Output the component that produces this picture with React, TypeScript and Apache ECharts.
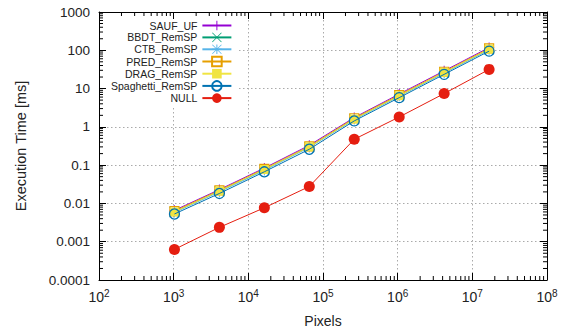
import React, { useEffect, useRef } from "react";
import * as echarts from "echarts";

const pixels = [1024, 4096, 16384, 65536, 262144, 1048576, 4194304, 16777216];
const seriesNames = ["SAUF_UF", "BBDT_RemSP", "CTB_RemSP", "PRED_RemSP", "DRAG_RemSP", "Spaghetti_RemSP", "NULL"];
const saufUF = [0.0066, 0.023, 0.084, 0.33, 1.75, 7.2, 29, 118];
const bbdtRemSP = [0.0060, 0.021, 0.076, 0.30, 1.6, 6.5, 26, 106];
const ctbRemSP = [0.0058, 0.020, 0.073, 0.29, 1.55, 6.3, 25.5, 103];
const predRemSP = [0.0063, 0.022, 0.080, 0.31, 1.68, 6.8, 27.5, 112];
const dragRemSP = [0.0060, 0.021, 0.077, 0.30, 1.6, 6.5, 26.5, 107];
const spaghettiRemSP = [0.0053, 0.0182, 0.067, 0.26, 1.43, 5.8, 23.5, 95];
const nullLabeling = [0.00063, 0.00237, 0.0077, 0.0277, 0.474, 1.81, 7.4, 31.7];
const yTickLabels = ["0.0001", "0.001", "0.01", "0.1", "1", "10", "100", "1000"];
const xExponents = [2, 3, 4, 5, 6, 7, 8];

const colors = ["#9400d3", "#009e73", "#56b4e9", "#e69f00", "#f0e442", "#0072b2", "#e51e10"];

const PLUS = "path://M9,0H11V9H20V11H11V20H9V11H0V9H9Z";
const CROSS = "path://M0,1L1,0L20,19L19,20Z M19,0L20,1L1,20L0,19Z";
const STAR = "path://M9,0H11V9H20V11H11V20H9V11H0V9H9Z M0,1L1,0L20,19L19,20Z M19,0L20,1L1,20L0,19Z";

const X_MIN = 100, X_MAX = 1e8, Y_MIN = 0.0001, Y_MAX = 1000;

function minorTicks(e0: number, e1: number) {
  const out: number[] = [];
  for (let e = e0; e < e1; e++) {
    for (let m = 2; m <= 9; m++) out.push(m * Math.pow(10, e));
  }
  return out;
}

export default function App() {
  const ref = useRef<HTMLDivElement>(null);
  useEffect(() => {
    if (!ref.current) return;
    const chart = echarts.init(ref.current, undefined, { renderer: "svg" });
    const font = "Liberation Sans";
    const values = [saufUF, bbdtRemSP, ctbRemSP, predRemSP, dragRemSP, spaghettiRemSP, nullLabeling];
    const symbols: any[] = [PLUS, CROSS, STAR, "rect", "rect", "circle", "circle"];
    const sizes = [10, 10, 10, 9, 9, 10, 11];
    const fills = ["#9400d3", "#009e73", "#56b4e9", "rgba(0,0,0,0)", "#f0e442", "rgba(0,0,0,0)", "#e51e10"];
    const borders = [0, 0, 0, 1.2, 0, 1.3, 0];

    const dataSeries = seriesNames.map((name, i) => ({
      name,
      type: "line",
      data: pixels.map((p, k) => [p, values[i][k]]),
      symbol: symbols[i],
      symbolSize: sizes[i],
      showSymbol: true,
      lineStyle: { color: colors[i], width: 1 },
      itemStyle: { color: fills[i], borderColor: colors[i], borderWidth: borders[i] },
      emphasis: { disabled: true },
      z: 3 + i * 0.01,
    }));

    const xMinor = minorTicks(2, 8).map((v) => [v, 1]);
    const yMinor = minorTicks(-4, 3).map((v) => [1000, v]);

    const option: any = {
      animation: false,
      textStyle: { fontFamily: font },
      grid: { left: 99, right: 14, top: 12, bottom: 52 },
      legend: {
        orient: "vertical",
        align: "right",
        left: 107,
        top: 19,
        padding: [1, 5, 3, 4],
        backgroundColor: "#ffffff",
        itemWidth: 29,
        itemHeight: 12,
        itemGap: 0.9,
        data: seriesNames,
        textStyle: { fontFamily: font, fontSize: 10.5, color: "#222" },
      },
      xAxis: [
        {
          type: "log",
          logBase: 10,
          min: X_MIN,
          max: X_MAX,
          interval: 1,
          name: "Pixels",
          nameLocation: "middle",
          nameGap: 34,
          nameTextStyle: { fontFamily: font, fontSize: 14, color: "#222" },
          axisLine: { show: true, lineStyle: { color: "#000", width: 1 } },
          axisTick: { show: true, inside: true, length: 7, lineStyle: { color: "#000" } },
          axisLabel: {
            margin: 8,
            formatter: (v: number) => {
              const e = Math.round(Math.log10(v));
              return xExponents.includes(e) ? `{b|10}{s|${e}}` : "";
            },
            rich: {
              b: { fontFamily: font, fontSize: 14, color: "#222" },
              s: { fontFamily: font, fontSize: 10, color: "#222", padding: [0, 0, 7, 0] },
            },
          },
          splitLine: { show: true, lineStyle: { color: "#aaa", type: [1.5, 2.5], width: 1 } },
        },
        {
          type: "log",
          logBase: 10,
          min: X_MIN,
          max: X_MAX,
          interval: 1,
          position: "top",
          axisLine: { show: true, lineStyle: { color: "#000", width: 1 } },
          axisTick: { show: true, inside: true, length: 7, lineStyle: { color: "#000" } },
          axisLabel: { show: false },
          splitLine: { show: false },
        },
      ],
      yAxis: [
        {
          type: "log",
          logBase: 10,
          min: Y_MIN,
          max: Y_MAX,
          interval: 1,
          name: "Execution Time [ms]",
          nameLocation: "middle",
          nameGap: 71,
          nameTextStyle: { fontFamily: font, fontSize: 14.5, color: "#222" },
          axisLine: { show: true, lineStyle: { color: "#000", width: 1 } },
          axisTick: { show: true, inside: true, length: 7, lineStyle: { color: "#000" } },
          axisLabel: {
            margin: 9,
            fontFamily: font,
            fontSize: 13.5,
            color: "#222",
            formatter: (v: number) => {
              const e = Math.round(Math.log10(v));
              return yTickLabels[e + 4] ?? "";
            },
          },
          splitLine: { show: true, lineStyle: { color: "#aaa", type: [1.5, 2.5], width: 1 } },
        },
        {
          type: "log",
          logBase: 10,
          min: Y_MIN,
          max: Y_MAX,
          interval: 1,
          position: "right",
          axisLine: { show: true, lineStyle: { color: "#000", width: 1 } },
          axisTick: { show: true, inside: true, length: 7, lineStyle: { color: "#000" } },
          axisLabel: { show: false },
          splitLine: { show: false },
        },
      ],
      series: [
        {
          type: "custom",
          silent: true,
          data: xMinor,
          z: 1,
          renderItem: (params: any, api: any) => {
            const x = api.value(0);
            const b = api.coord([x, Y_MIN]);
            const t = api.coord([x, Y_MAX]);
            const st = { stroke: "#000", lineWidth: 1 };
            return {
              type: "group",
              children: [
                { type: "line", shape: { x1: b[0], y1: b[1], x2: b[0], y2: b[1] - 4 }, style: st },
                { type: "line", shape: { x1: t[0], y1: t[1], x2: t[0], y2: t[1] + 4 }, style: st },
              ],
            };
          },
        },
        {
          type: "custom",
          silent: true,
          data: yMinor,
          z: 1,
          renderItem: (params: any, api: any) => {
            const y = api.value(1);
            const l = api.coord([X_MIN, y]);
            const r = api.coord([X_MAX, y]);
            const st = { stroke: "#000", lineWidth: 1 };
            return {
              type: "group",
              children: [
                { type: "line", shape: { x1: l[0], y1: l[1], x2: l[0] + 4, y2: l[1] }, style: st },
                { type: "line", shape: { x1: r[0], y1: r[1], x2: r[0] - 4, y2: r[1] }, style: st },
              ],
            };
          },
        },
        ...dataSeries,
      ],
    };
    chart.setOption(option);
    return () => chart.dispose();
  }, []);
  return <div ref={ref} style={{ position: "absolute", left: 0, top: 0, width: 561, height: 333 }} />;
}
